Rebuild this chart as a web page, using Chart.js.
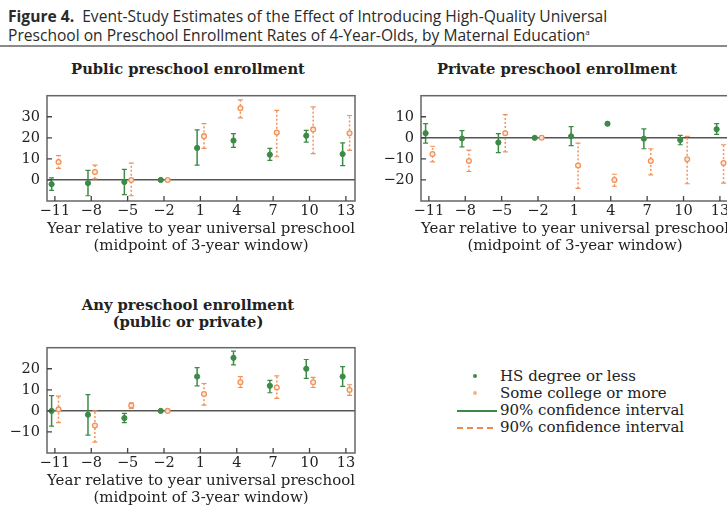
<!DOCTYPE html>
<html><head><meta charset="utf-8">
<script src="https://cdn.jsdelivr.net/npm/chart.js@4"></script>
<style>
html,body{margin:0;padding:0;width:727px;height:506px;overflow:hidden;background:#fff;position:relative;}
.abs{position:absolute;white-space:nowrap;}
#figtitle{left:8px;top:8px;font-family:"Open Sans",sans-serif;font-size:15.6px;line-height:16px;color:#2a2a2a;}
#figtitle b{font-weight:700;}
#rule{left:0;top:45px;width:727px;height:2px;background:#8a8a8a;}
.ptitle{font-family:"DejaVu Serif",serif;font-weight:bold;font-size:14.7px;color:#222;transform:translate(-50%,-50%);}
canvas{position:absolute;}
.leg{font-family:"DejaVu Serif",serif;font-size:15px;color:#222;transform:translateY(-50%);}
.ldot{width:4px;height:4px;border-radius:50%;transform:translate(-50%,-50%);}
</style></head><body>
<div id="figtitle" class="abs"><b>Figure 4.</b>&nbsp; Event-Study Estimates of the Effect of Introducing High-Quality Universal<br>Preschool on Preschool Enrollment Rates of 4-Year-Olds, by Maternal Education<sup style="font-size:8px">a</sup></div>
<div id="rule" class="abs"></div>
<div class="abs ptitle" style="left:188px;top:68px">Public preschool enrollment</div>
<div class="abs ptitle" style="left:557px;top:68px">Private preschool enrollment</div>
<div class="abs ptitle" style="left:188px;top:304px">Any preschool enrollment</div>
<div class="abs ptitle" style="left:188px;top:321px">(public or private)</div>
<canvas id="c1" width="365" height="181" style="left:0;top:80px"></canvas>
<canvas id="c2" width="365" height="181" style="left:374px;top:80px"></canvas>
<canvas id="c3" width="365" height="181" style="left:0;top:332px"></canvas>
<div class="abs ldot" style="left:475px;top:376px;background:#3d8a47"></div>
<div class="abs ldot" style="left:475px;top:393px;background:#f3b48c"></div>
<div class="abs" style="left:457px;top:410px;width:40px;height:1.5px;background:#3d8a47"></div>
<div class="abs" style="left:457px;top:427px;width:40px;height:2px;background:repeating-linear-gradient(90deg,#ee8a4e 0px,#ee8a4e 6px,rgba(255,255,255,0) 6px,rgba(255,255,255,0) 10px)"></div>
<div class="abs leg" style="left:500px;top:376px">HS degree or less</div>
<div class="abs leg" style="left:500px;top:393px">Some college or more</div>
<div class="abs leg" style="left:500px;top:410px">90% confidence interval</div>
<div class="abs leg" style="left:500px;top:427px">90% confidence interval</div>
<script>
// ---- data ----
const years = [-11, -8, -5, -2, 1, 4, 7, 10, 13];
const xTicks = [-11, -8, -5, -2, 1, 4, 7, 10, 13];

// Public preschool enrollment
const publicHS      = [-2.0, -1.5, -1.0, 0, 15.2, 18.7, 12.0, 21.0, 12.3];
const publicHSLow   = [-5.0, -7.5, -7.0, null, 7.0, 15.5, 9.3, 18.0, 6.8];
const publicHSHigh  = [1.0, 4.5, 5.0, null, 23.8, 22.0, 15.0, 23.5, 17.6];
const publicCol     = [8.5, 3.8, 0.0, 0, 20.8, 34.0, 22.5, 24.0, 22.2];
const publicColLow  = [5.5, 0.5, -7.5, null, 15.0, 29.5, 11.0, 12.5, 14.0];
const publicColHigh = [11.5, 7.0, 8.0, null, 26.7, 38.0, 33.0, 34.7, 30.6];
const publicYTicks  = [0, 10, 20, 30];

// Private preschool enrollment
const privateHS      = [2.2, -0.3, -2.2, 0, 0.7, 6.7, -0.4, -1.0, 4.1];
const privateHSLow   = [-2.5, -4.3, -7.0, null, -3.7, 5.9, -5.2, -3.3, 1.6];
const privateHSHigh  = [6.7, 3.4, 2.0, null, 5.3, 7.4, 4.2, 1.2, 6.7];
const privateCol     = [-7.7, -11.0, 2.2, 0, -13.2, -20.0, -11.0, -10.2, -12.0];
const privateColLow  = [-11.4, -16.0, -6.7, null, -24.0, -23.0, -17.6, -21.8, -21.5];
const privateColHigh = [-4.0, -5.8, 11.0, null, -2.5, -17.3, -5.2, 0.7, -3.3];
const privateYTicks  = [-20, -10, 0, 10];

// Any preschool enrollment
const anyHS      = [0.0, -1.8, -3.4, 0, 16.3, 25.2, 11.9, 20.0, 16.3];
const anyHSLow   = [-7.2, -11.5, -5.6, null, 11.9, 21.8, 8.6, 15.4, 11.6];
const anyHSHigh  = [7.2, 7.7, -1.2, null, 20.5, 28.4, 14.5, 24.4, 21.0];
const anyCol     = [0.7, -7.0, 2.5, 0, 8.0, 13.6, 11.1, 13.6, 9.9];
const anyColLow  = [-5.6, -14.8, 1.2, null, 2.7, 11.1, 5.9, 11.1, 7.4];
const anyColHigh = [7.0, 0.0, 3.8, null, 13.0, 16.3, 16.6, 15.9, 12.4];
const anyYTicks  = [-10, 0, 10, 20];

const xAxisTitle = ['Year relative to year universal preschool', '(midpoint of 3-year window)'];

// ---- styling ----
const GREEN = '#3d8a47';
const ORANGE = '#f0925a';
const HS_OFFSET = -0.27;
const COL_OFFSET = 0.3;
const serif = '"DejaVu Serif", serif';

const errorBars = {
  id: 'errorBars',
  beforeDatasetsDraw(chart) {
    const {ctx, scales: {y}} = chart;
    chart.data.datasets.forEach((ds, i) => {
      const meta = chart.getDatasetMeta(i);
      ds.ciLow.forEach((lo, j) => {
        const hi = ds.ciHigh[j];
        if (lo == null || hi == null) return;
        const px = meta.data[j].x;
        const y1 = y.getPixelForValue(lo), y2 = y.getPixelForValue(hi);
        ctx.save();
        ctx.strokeStyle = ds.borderColor;
        ctx.lineWidth = 1.5;
        ctx.setLineDash(ds.ciDash);
        ctx.beginPath(); ctx.moveTo(px, y1); ctx.lineTo(px, y2); ctx.stroke();
        ctx.setLineDash([]);
        ctx.lineWidth = 1.2;
        ctx.beginPath();
        ctx.moveTo(px - 2.5, y1); ctx.lineTo(px + 2.5, y1);
        ctx.moveTo(px - 2.5, y2); ctx.lineTo(px + 2.5, y2);
        ctx.stroke();
        ctx.restore();
      });
    });
  },
  afterDraw(chart) {
    const {ctx, chartArea: a, scales: {x, y}} = chart;
    ctx.save();
    ctx.strokeStyle = '#666';
    ctx.lineWidth = 1.5;
    ctx.strokeRect(a.left, a.top, a.right - a.left, a.bottom - a.top);
    ctx.strokeStyle = '#444';
    ctx.lineWidth = 1.3;
    ctx.beginPath();
    x.ticks.forEach((t, i) => { const px = x.getPixelForTick(i); ctx.moveTo(px, a.bottom); ctx.lineTo(px, a.bottom - 5); });
    y.ticks.forEach((t, i) => { const py = y.getPixelForTick(i); ctx.moveTo(a.left, py); ctx.lineTo(a.left + 5, py); });
    ctx.stroke();
    ctx.restore();
  }
};

function fmt(v) { return v < 0 ? '\u2212' + Math.abs(v) : String(v); }

function makeChart(id, hs, hsLo, hsHi, col, colLo, colHi, yMin, yMax, yTicks) {
  return new Chart(document.getElementById(id), {
    type: 'scatter',
    data: {
      datasets: [
        {
          label: 'HS degree or less',
          data: years.map((yr, i) => ({x: yr + HS_OFFSET, y: hs[i]})),
          ciLow: hsLo, ciHigh: hsHi, ciDash: [],
          borderColor: GREEN, backgroundColor: GREEN,
          pointRadius: 2.6, pointBorderWidth: 1
        },
        {
          label: 'Some college or more',
          data: years.map((yr, i) => ({x: yr + COL_OFFSET, y: col[i]})),
          ciLow: colLo, ciHigh: colHi, ciDash: [2, 2],
          borderColor: ORANGE, backgroundColor: 'rgba(255,235,220,0.9)',
          pointRadius: 2.4, pointBorderWidth: 1.3
        }
      ]
    },
    options: {
      responsive: false, animation: false, devicePixelRatio: 1,
      layout: {padding: {top: 7, right: 10, left: 0, bottom: 0}},
      plugins: {legend: {display: false}, tooltip: {enabled: false}},
      scales: {
        x: {
          type: 'linear', min: -11.65, max: 13.75,
          afterBuildTicks: s => { s.ticks = xTicks.map(v => ({value: v})); },
          afterFit: s => { s.height = 60; },
          grid: {display: false, drawTicks: false},
          border: {display: false},
          ticks: {padding: 2, autoSkip: false, maxRotation: 0, color: '#222', font: {family: serif, size: 14.5}, callback: v => fmt(v)},
          title: {display: true, text: xAxisTitle, color: '#222', font: {family: serif, size: 15, lineHeight: 1.13}, padding: {top: 0, bottom: 6}}
        },
        y: {
          min: yMin, max: yMax,
          afterBuildTicks: s => { s.ticks = yTicks.map(v => ({value: v})); },
          afterFit: s => { s.width = 47; },
          grid: {drawTicks: false, lineWidth: 1.5, color: c => (c.tick && c.tick.value === 0) ? '#555' : 'rgba(0,0,0,0)'},
          border: {display: false},
          ticks: {padding: 7, color: '#222', font: {family: serif, size: 14.5}, callback: v => fmt(v)}
        }
      }
    },
    plugins: [errorBars]
  });
}

makeChart('c1', publicHS, publicHSLow, publicHSHigh, publicCol, publicColLow, publicColHigh, -10, 40, publicYTicks);
makeChart('c2', privateHS, privateHSLow, privateHSHigh, privateCol, privateColLow, privateColHigh, -30, 20, privateYTicks);
makeChart('c3', anyHS, anyHSLow, anyHSHigh, anyCol, anyColLow, anyColHigh, -20, 30, anyYTicks);
</script>
</body></html>
